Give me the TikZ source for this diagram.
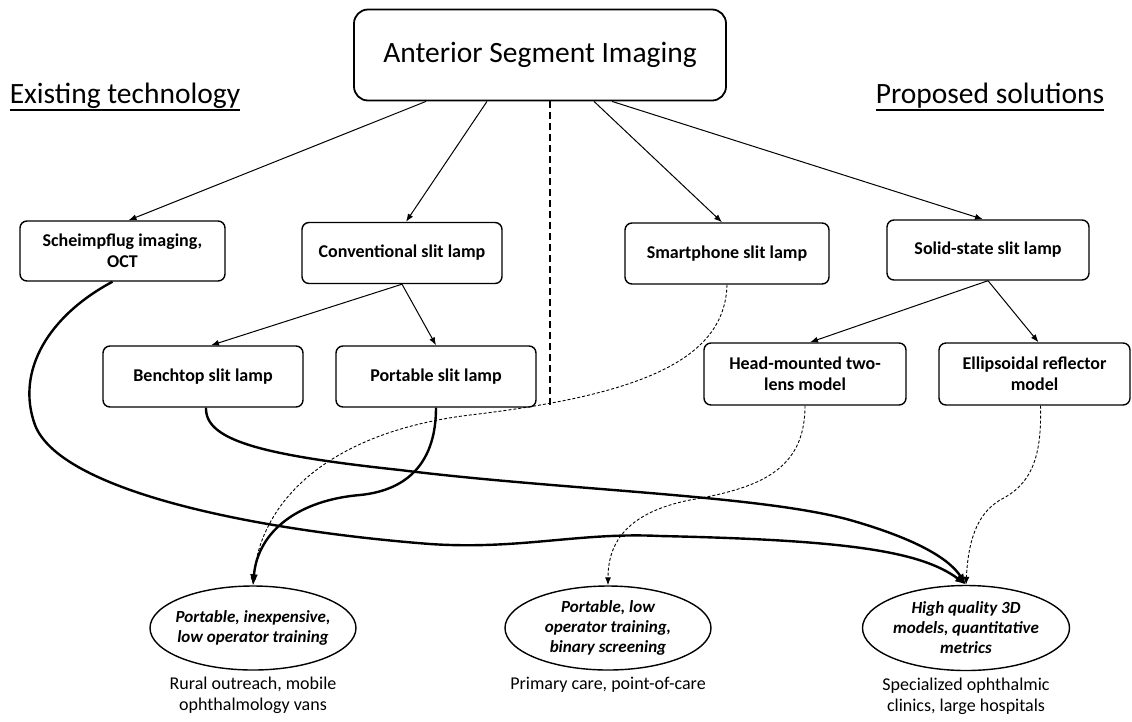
\documentclass[tikz,border=0pt]{standalone}
\usepackage{fontspec}
\setmainfont{Carlito}
\newcommand{\underrule}[1]{\vtop{\hbox{#1}\kern0.5pt\hrule height 1.6pt}}
\usetikzlibrary{arrows.meta,shapes.geometric,positioning}
\tikzset{
    tech/.style={
        rectangle,
        draw,
        rounded corners=7pt,
        line width=1.4pt,
        align=center,
        font=\bfseries\fontsize{18}{21}\selectfont,
        minimum width=200pt,
        minimum height=61pt,
        inner sep=2pt
    },
    need/.style={
        ellipse,
        draw,
        line width=1.4pt,
        align=center,
        font=\bfseries\itshape\fontsize{17}{20}\selectfont,
        minimum width=206pt,
        minimum height=84pt,
        inner xsep=-15pt,
        inner ysep=-8pt
    },
    usecase/.style={
        align=center,
        font=\fontsize{18}{21}\selectfont
    },
    heading/.style={
        font=\fontsize{29.5}{34}\selectfont
    },
    branch/.style={-{Latex[length=8pt,width=6pt]}, line width=1pt},
    route/.style={-{Latex[length=11pt,width=8pt]}, line width=2.4pt},
    maybe/.style={-{Latex[length=8pt,width=6pt]}, line width=0.9pt, dash pattern=on 3pt off 2pt}
}

\begin{document}
\begin{tikzpicture}[x=1pt,y=-1pt]
\useasboundingbox (0,0) rectangle (1132,721);
\node[draw, rounded corners=14pt, line width=1.8pt, minimum width=372pt, minimum height=91pt, heading] (title) at (540,55) {Anterior Segment Imaging};
\node[heading] (existing) at (125,97) {\underrule{Existing technology}};
\node[heading] (proposed) at (990,97) {\underrule{Proposed solutions}};
\coordinate (divtop) at (550,101);
\coordinate (divbot) at (550,406);
\draw[line width=1.7pt, dash pattern=on 7pt off 4pt] (divtop) -- (divbot);

\node[tech, minimum width=205pt, minimum height=60pt] (sch) at (122.5,251) {Scheimpflug imaging,\\OCT};
\node[tech] (conv) at (402,253) {Conventional slit lamp};
\node[tech, minimum width=204pt] (smart) at (727,253.5) {Smartphone slit lamp};
\node[tech, minimum width=202pt, minimum height=60pt] (solid) at (988,250) {Solid-state slit lamp};
\node[tech] (bench) at (203,376.5) {Benchtop slit lamp};
\node[tech] (port) at (436,376.5) {Portable slit lamp};
\node[tech, minimum width=202pt, minimum height=62pt] (head) at (805,374) {Head-mounted two-\\lens model};
\node[tech, minimum width=191pt, minimum height=62pt] (ellip) at (1034.5,374) {Ellipsoidal reflector\\model};

\node[need] (cheap) at (253,628) {Portable, inexpensive,\\low operator training};
\node[need] (screen) at (608,628) {Portable, low\\operator training,\\binary screening};
\node[need, minimum width=207pt, minimum height=85pt] (quality) at (966,628) {High quality 3D\\models, quantitative\\metrics};
\node[usecase, below=3pt of cheap] (rural) {Rural outreach, mobile\\ophthalmology vans};
\node[usecase, below=3pt of screen] (primary) {Primary care, point-of-care};
\node[usecase, below=3pt of quality] (clinic) {Specialized ophthalmic\\clinics, large hospitals};

\draw[branch] ([xshift=-114pt]title.south) -- ([xshift=6pt]sch.north);
\draw[branch] ([xshift=-53pt]title.south) -- ([xshift=4pt]conv.north);
\draw[branch] ([xshift=54pt]title.south) -- ([xshift=-5pt]smart.north);
\draw[branch] ([xshift=72pt]title.south) -- ([xshift=-5pt]solid.north);
\draw[branch] (conv.south) -- ([xshift=8pt]bench.north);
\draw[branch] (conv.south) -- (port.north);
\draw[branch] (solid.south) -- ([xshift=5pt]head.north);
\draw[branch] (solid.south) -- ([xshift=4pt]ellip.north);

% thick: existing devices to settings
\draw[route] ([xshift=-10pt]sch.south) .. controls (50,315) and (15,370) .. (35,425)
    .. controls (60,490) and (250,530) .. (430,544)
    .. controls (520,550) and (580,532) .. (660,536)
    .. controls (840,540) and (920,550) .. (quality.north);
\draw[route] ([xshift=3pt]bench.south) .. controls (205,440) and (260,455) .. (400,470)
    .. controls (560,490) and (760,495) .. (850,520)
    .. controls (920,540) and (950,560) .. (quality.north);
\draw[route] (port.south) .. controls (436,460) and (410,490) .. (360,495)
    .. controls (300,500) and (258,530) .. (cheap.north);

% dashed: proposed devices to settings
\draw[maybe] (smart.south) .. controls (725,360) and (640,395) .. (470,415)
    .. controls (330,432) and (260,500) .. (cheap.north);
\draw[maybe] (head.south) .. controls (805,470) and (760,488) .. (690,500)
    .. controls (630,512) and (608,540) .. (screen.north);
\draw[maybe] ([xshift=6pt]ellip.south) .. controls (1042,460) and (1030,485) .. (1000,500)
    .. controls (975,515) and (968,545) .. (quality.north);
\end{tikzpicture}
\end{document}
